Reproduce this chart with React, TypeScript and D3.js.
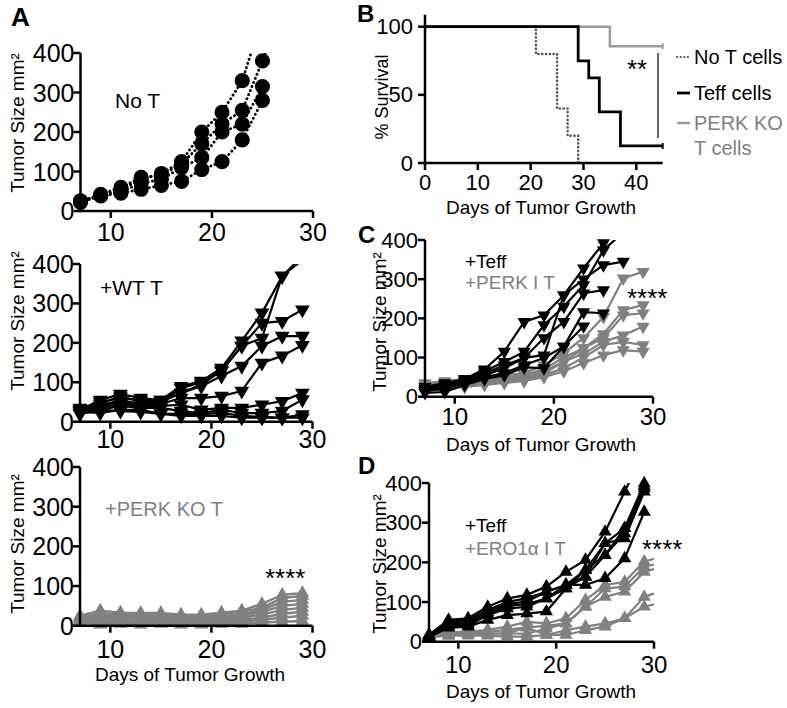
import React from 'react';
import * as d3 from 'd3';

const FONT = "'Liberation Sans', Arial, Helvetica, sans-serif";
const BLACK = '#000000';
const GRAY = '#808080';
const SURV_GRAY = '#9b9b9b';

// ---------- Tumor growth data (values per mouse, measured every 2 days from day 7) ----------
const days = [7, 9, 11, 13, 15, 17, 19, 21, 23, 25, 27, 29, 31];
const dayTicks = [10, 20, 30];
const sizeTicks = [0, 100, 200, 300, 400];

const noTMice = [
  [25, 40, 55, 80, 95, 125, 200, 250, 330, 490],
  [25, 42, 60, 85, 90, 120, 170, 220, 255, 380, 520],
  [25, 40, 50, 70, 80, 110, 135, 200, 220, 315],
  [22, 38, 45, 55, 65, 75, 105, 125, 180, 280],
];

const wtMice = [
  [30, 55, 70, 60, 55, 90, 103, 136, 205, 276, 369, 420],
  [25, 50, 60, 55, 50, 85, 100, 129, 192, 212, 370, 410],
  [35, 45, 65, 50, 55, 73, 94, 129, 192, 250, 255, 284],
  [30, 40, 55, 45, 50, 73, 90, 116, 141, 192, 217, 217],
  [25, 40, 50, 45, 45, 60, 60, 65, 78, 149, 167, 194],
  [20, 35, 45, 40, 40, 43, 30, 35, 35, 43, 52, 73],
  [20, 30, 40, 35, 35, 27, 22, 30, 22, 22, 27, 56],
  [25, 22, 30, 30, 20, 15, 15, 15, 10, 10, 10, 18],
  [30, 30, 27, 25, 20, 20, 20, 22, 15, 12, 10, 10],
];

const perkKoMice = [
  [25, 38, 33, 32, 32, 28, 28, 33, 38, 55, 78, 82],
  [22, 30, 30, 28, 30, 25, 25, 30, 35, 45, 70, 75],
  [20, 25, 25, 25, 25, 20, 22, 25, 28, 40, 60, 65],
  [18, 20, 20, 20, 20, 18, 18, 20, 25, 35, 50, 55],
  [15, 15, 18, 15, 15, 15, 15, 15, 20, 28, 40, 45],
  [12, 10, 12, 10, 10, 10, 10, 10, 15, 20, 30, 35],
  [10, 5, 10, 5, 8, 5, 5, 8, 10, 15, 20, 25],
  [8, 3, 5, 3, 5, 3, 3, 5, 5, 8, 10, 12],
];

const teffMiceC = [
  [20, 30, 45, 70, 115, 191, 208, 259, 328, 392, 470],
  [25, 35, 45, 65, 89, 115, 183, 230, 285, 374, 420],
  [20, 30, 40, 60, 80, 99, 106, 259, 300, 336, 345],
  [15, 25, 40, 55, 73, 99, 150, 191, 264, 272],
  [15, 20, 35, 50, 60, 81, 99, 128, 216, 213],
  [10, 12, 30, 45, 55, 75, 73, 128, 180],
];

const perkIMiceC = [
  [35, 40, 45, 50, 55, 60, 80, 111, 150, 204, 302, 319],
  [30, 35, 40, 45, 50, 55, 70, 100, 124, 160, 221, 234],
  [25, 30, 35, 40, 45, 50, 65, 89, 124, 150, 208, 213],
  [20, 25, 30, 35, 40, 45, 60, 89, 110, 140, 157, 179],
  [20, 25, 30, 35, 40, 45, 55, 73, 100, 132, 140, 132],
  [15, 20, 25, 30, 35, 40, 50, 65, 86, 106, 119, 115],
];

const teffMiceD = [
  [17, 55, 59, 88, 109, 118, 139, 176, 206, 277, 378, 480],
  [17, 50, 55, 80, 100, 110, 126, 143, 181, 248, 286, 399],
  [15, 45, 50, 75, 95, 101, 126, 143, 164, 218, 273, 386],
  [15, 40, 45, 70, 90, 95, 109, 134, 164, 248, 260, 378],
  [12, 38, 40, 67, 84, 88, 109, 143, 143, 160, 210, 327],
  [12, 35, 38, 55, 67, 71, 76, 134, 181, 218, 286, 392],
];

const ero1MiceD = [
  [17, 25, 25, 30, 38, 50, 46, 59, 105, 143, 151, 202, 215],
  [17, 20, 25, 25, 30, 36, 40, 46, 88, 134, 139, 189, 200],
  [15, 20, 20, 20, 21, 20, 33, 46, 88, 113, 126, 176, 190],
  [12, 15, 20, 20, 21, 36, 17, 29, 38, 46, 59, 113, 130],
  [12, 15, 15, 15, 13, 13, 17, 17, 29, 38, 59, 88, 100],
];

// ---------- Survival data (Kaplan-Meier steps) ----------
const survTicksX = [0, 10, 20, 30, 40];
const survTicksY = [0, 50, 100];
const noTSurvDays = [0, 21, 25, 27, 29];
const noTSurvPct = [100, 80, 40, 20, 0];
const teffSurvDays = [0, 29, 31, 33, 37, 45];
const teffSurvPct = [100, 75, 62.5, 37.5, 12.5, 12.5];
const perkSurvDays = [0, 35, 45];
const perkSurvPct = [100, 85.7, 85.7];

type Group = {
  mice: number[][];
  color: string;
  marker: 'circle' | 'up' | 'down';
  size: number;
  lw: number;
  dotted?: boolean;
};

function markerPath(kind: 'circle' | 'up' | 'down', size: number) {
  const t = kind === 'circle' ? d3.symbolCircle : d3.symbolTriangle;
  return d3.symbol().type(t).size(size)() as string;
}

function YTitle({ x, cy, text, size = 19 }: { x: number; cy: number; text: string; size?: number }) {
  return (
    <text
      transform={`translate(${x},${cy}) rotate(-90)`}
      textAnchor="middle"
      dominantBaseline="central"
      fontFamily={FONT}
      fontSize={size}
      fill={BLACK}
    >
      {text}
    </text>
  );
}

function TumorPanel(props: {
  id: string;
  xr: [number, number];
  yr: [number, number];
  groups: Group[];
  yTickFont: number;
  xTickFont: number;
  xTickBase: number;
  yLabelGap: number;
  yTitleX: number;
  yTitleCY: number;
}) {
  const { id, xr, yr, groups, yTickFont, xTickFont, xTickBase, yLabelGap, yTitleX, yTitleCY } = props;
  const x = d3.scaleLinear().domain([7, 30]).range(xr);
  const y = d3.scaleLinear().domain([0, 400]).range(yr);
  const line = d3
    .line<number>()
    .x((_, i) => x(days[i]))
    .y((d) => y(d));
  const tick = 7;
  return (
    <g>
      <defs>
        <clipPath id={id}>
          <rect x={xr[0] - 15} y={yr[1]} width={xr[1] - xr[0] + 15} height={yr[0] - yr[1] + 20} />
        </clipPath>
      </defs>
      {groups.map((g, gi) => (
        <g key={gi}>
          <g clipPath={`url(#${id})`}>
            {g.mice.map((m, mi) => (
              <path
                key={mi}
                d={line(m) as string}
                fill="none"
                stroke={g.color}
                strokeWidth={g.lw}
                strokeLinecap={g.dotted ? 'round' : 'butt'}
                strokeLinejoin="round"
                strokeDasharray={g.dotted ? '0.2 4.2' : undefined}
              />
            ))}
          </g>
          {g.mice.map((m, mi) =>
            m.map((v, i) =>
              days[i] <= 29 && v <= 400 ? (
                <path
                  key={`${mi}-${i}`}
                  d={markerPath(g.marker, g.size)}
                  transform={`translate(${x(days[i])},${y(v)})${g.marker === 'down' ? ' rotate(180)' : ''}`}
                  fill={g.color}
                />
              ) : null
            )
          )}
        </g>
      ))}
      {/* axes */}
      <line x1={xr[0]} x2={xr[0]} y1={yr[0]} y2={yr[1]} stroke={BLACK} strokeWidth={2.5} />
      <line x1={xr[0] - 1.25} x2={xr[1]} y1={yr[0]} y2={yr[0]} stroke={BLACK} strokeWidth={2.5} />
      {sizeTicks.map((t) => (
        <g key={t}>
          <line x1={xr[0] - tick} x2={xr[0]} y1={y(t)} y2={y(t)} stroke={BLACK} strokeWidth={2.5} />
          <text
            x={xr[0] - yLabelGap}
            y={y(t)}
            textAnchor="end"
            dominantBaseline="central"
            fontFamily={FONT}
            fontSize={yTickFont}
          >
            {t}
          </text>
        </g>
      ))}
      {dayTicks.map((t) => (
        <g key={t}>
          <line x1={x(t)} x2={x(t)} y1={yr[0]} y2={yr[0] + tick} stroke={BLACK} strokeWidth={2.5} />
          <text x={x(t)} y={yr[0] + xTickBase} textAnchor="middle" fontFamily={FONT} fontSize={xTickFont}>
            {t}
          </text>
        </g>
      ))}
      <YTitle x={yTitleX} cy={yTitleCY} text="Tumor Size mm²" />
    </g>
  );
}

function SurvivalPanel() {
  const x = d3.scaleLinear().domain([0, 45]).range([425, 662.7]);
  const y = d3.scaleLinear().domain([0, 100]).range([163, 26.7]);
  const step = (ds: number[], ps: number[]) =>
    d3
      .line<number>()
      .x((_, i) => x(ds[i]))
      .y((p) => y(p))
      .curve(d3.curveStepAfter)(ps) as string;
  const tick = 7;
  return (
    <g>
      <path d={step(perkSurvDays, perkSurvPct)} fill="none" stroke={SURV_GRAY} strokeWidth={2.5} />
      <path
        d={step(noTSurvDays, noTSurvPct)}
        fill="none"
        stroke="#555"
        strokeWidth={2.5}
        strokeDasharray="0.2 3.6"
        strokeLinecap="round"
      />
      <path d={step(teffSurvDays, teffSurvPct)} fill="none" stroke={BLACK} strokeWidth={2.8} />
      <line x1={x(45)} x2={x(45)} y1={y(85.7) - 3} y2={y(85.7) + 3} stroke={SURV_GRAY} strokeWidth={2} />
      <line x1={x(45)} x2={x(45)} y1={y(12.5) - 3} y2={y(12.5) + 3} stroke={BLACK} strokeWidth={2} />
      {/* axes */}
      <line x1={425} x2={425} y1={y(0)} y2={y(100) - 12} stroke={BLACK} strokeWidth={2.5} />
      <line x1={425 - 1.25} x2={x(45)} y1={y(0)} y2={y(0)} stroke={BLACK} strokeWidth={2.5} />
      {survTicksY.map((t) => (
        <g key={t}>
          <line x1={425 - tick} x2={425} y1={y(t)} y2={y(t)} stroke={BLACK} strokeWidth={2.5} />
          <text x={413} y={y(t)} textAnchor="end" dominantBaseline="central" fontFamily={FONT} fontSize={22}>
            {t}
          </text>
        </g>
      ))}
      {survTicksX.map((t) => (
        <g key={t}>
          <line x1={x(t)} x2={x(t)} y1={y(0)} y2={y(0) + tick} stroke={BLACK} strokeWidth={2.5} />
          <text x={x(t)} y={190} textAnchor="middle" fontFamily={FONT} fontSize={22}>
            {t}
          </text>
        </g>
      ))}
      <YTitle x={382} cy={97} text="% Survival" size={18} />
      <text x={541} y={214} textAnchor="middle" fontFamily={FONT} fontSize={19}>
        Days of Tumor Growth
      </text>
      {/* significance */}
      <line x1={658} x2={658} y1={53} y2={138} stroke={BLACK} strokeWidth={1.2} />
      <text x={627} y={78} fontFamily={FONT} fontSize={26}>
        **
      </text>
      {/* legend */}
      <line x1={677} x2={690} y1={57} y2={57} stroke="#555" strokeWidth={2.2} strokeDasharray="0.2 3.4" strokeLinecap="round" />
      <text x={694} y={57} dominantBaseline="central" fontFamily={FONT} fontSize={20}>
        No T cells
      </text>
      <line x1={677} x2={690} y1={93} y2={93} stroke={BLACK} strokeWidth={2.8} />
      <text x={694} y={93} dominantBaseline="central" fontFamily={FONT} fontSize={20}>
        Teff cells
      </text>
      <line x1={677} x2={690} y1={123} y2={123} stroke={SURV_GRAY} strokeWidth={2.5} />
      <text x={694} y={123} dominantBaseline="central" fontFamily={FONT} fontSize={20} fill={GRAY}>
        PERK KO
      </text>
      <text x={694} y={148} dominantBaseline="central" fontFamily={FONT} fontSize={20} fill={GRAY}>
        T cells
      </text>
    </g>
  );
}

function Label({ x, y, text, color = BLACK, size = 20 }: { x: number; y: number; text: string; color?: string; size?: number }) {
  return (
    <text x={x} y={y} fontFamily={FONT} fontSize={size} fill={color}>
      {text}
    </text>
  );
}

export default function App() {
  return (
    <svg
      width={787}
      height={708}
      viewBox="0 0 787 708"
      style={{ position: 'absolute', left: 0, top: 0, background: '#fff' }}
    >
      <rect width={787} height={708} fill="#fff" />
      {/* Panel letters */}
      <text x={11} y={26} fontFamily={FONT} fontSize={26} fontWeight="bold">A</text>
      <text x={357} y={22} fontFamily={FONT} fontSize={24} fontWeight="bold">B</text>
      <text x={358} y={243} fontFamily={FONT} fontSize={24} fontWeight="bold">C</text>
      <text x={358} y={474} fontFamily={FONT} fontSize={24} fontWeight="bold">D</text>

      {/* A: No T */}
      <TumorPanel
        id="clipA1"
        xr={[80.5, 313]}
        yr={[211, 53]}
        groups={[{ mice: noTMice, color: BLACK, marker: 'circle', size: 180, lw: 2.8, dotted: true }]}
        yTickFont={25}
        xTickFont={25}
        xTickBase={30}
        yLabelGap={6}
        yTitleX={17}
        yTitleCY={123}
      />
      <Label x={115} y={108} text="No T" size={21} />

      {/* A: +WT T */}
      <TumorPanel
        id="clipA2"
        xr={[80, 312.5]}
        yr={[421.7, 264]}
        groups={[{ mice: wtMice, color: BLACK, marker: 'down', size: 95, lw: 2.2 }]}
        yTickFont={25}
        xTickFont={25}
        xTickBase={26}
        yLabelGap={6}
        yTitleX={17}
        yTitleCY={321}
      />
      <Label x={100} y={295} text="+WT T" size={21} />

      {/* A: +PERK KO T */}
      <TumorPanel
        id="clipA3"
        xr={[80, 312.5]}
        yr={[625.7, 467]}
        groups={[{ mice: perkKoMice, color: GRAY, marker: 'up', size: 80, lw: 2.4 }]}
        yTickFont={25}
        xTickFont={25}
        xTickBase={32}
        yLabelGap={6}
        yTitleX={17}
        yTitleCY={544}
      />
      <Label x={105} y={516} text="+PERK KO T" color={GRAY} size={20} />
      <text x={265} y={587} fontFamily={FONT} fontSize={26}>****</text>
      <text x={190} y={681} textAnchor="middle" fontFamily={FONT} fontSize={19}>
        Days of Tumor Growth
      </text>

      {/* B: survival */}
      <SurvivalPanel />

      {/* C */}
      <TumorPanel
        id="clipC"
        xr={[425, 653]}
        yr={[396.7, 240]}
        groups={[
          { mice: perkIMiceC, color: GRAY, marker: 'down', size: 75, lw: 2.2 },
          { mice: teffMiceC, color: BLACK, marker: 'down', size: 75, lw: 2.2 },
        ]}
        yTickFont={22}
        xTickFont={24}
        xTickBase={28}
        yLabelGap={7}
        yTitleX={379}
        yTitleCY={322}
      />
      <Label x={465} y={268} text="+Teff" size={19} />
      <Label x={465} y={289} text="+PERK I T" color={GRAY} size={19} />
      <text x={627} y={307} fontFamily={FONT} fontSize={26}>****</text>
      <text x={541} y={451} textAnchor="middle" fontFamily={FONT} fontSize={19}>
        Days of Tumor Growth
      </text>

      {/* D */}
      <TumorPanel
        id="clipD"
        xr={[429, 654]}
        yr={[641.7, 483]}
        groups={[
          { mice: ero1MiceD, color: GRAY, marker: 'up', size: 75, lw: 2.2 },
          { mice: teffMiceD, color: BLACK, marker: 'up', size: 75, lw: 2.2 },
        ]}
        yTickFont={22}
        xTickFont={24}
        xTickBase={31}
        yLabelGap={7}
        yTitleX={379}
        yTitleCY={564}
      />
      <Label x={465} y={532} text="+Teff" size={19} />
      <Label x={465} y={555} text="+ERO1α I T" color={GRAY} size={19} />
      <text x={642} y={558} fontFamily={FONT} fontSize={26}>****</text>
      <text x={541} y={698} textAnchor="middle" fontFamily={FONT} fontSize={19}>
        Days of Tumor Growth
      </text>
    </svg>
  );
}
